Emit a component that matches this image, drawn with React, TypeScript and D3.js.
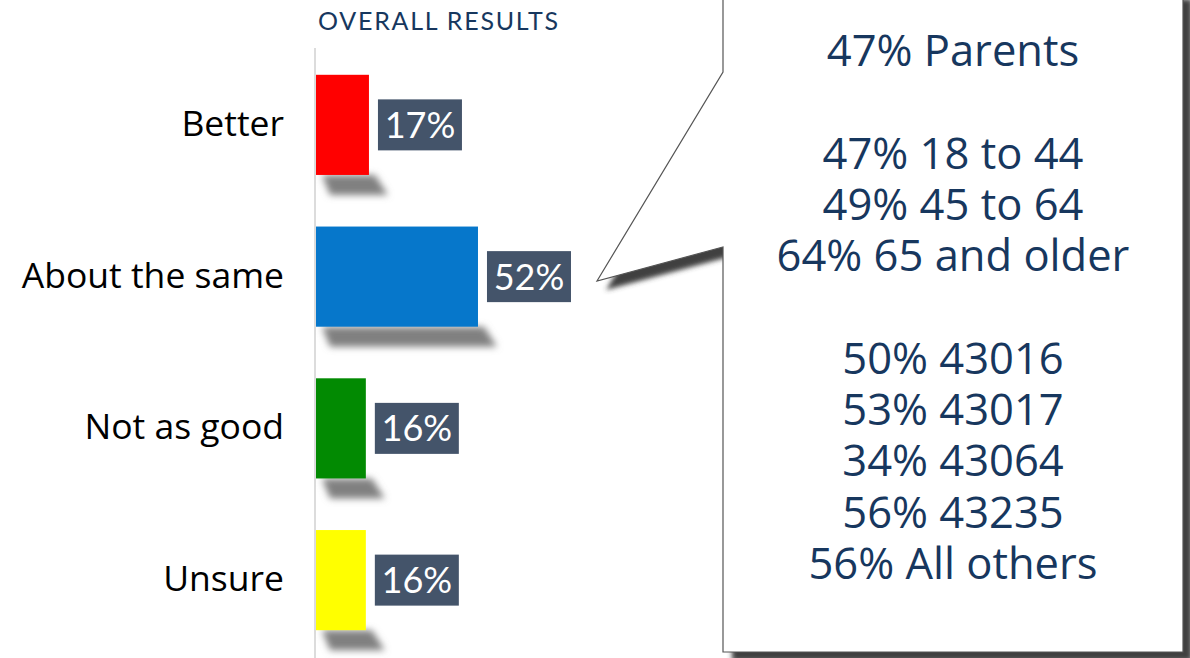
import React from 'react';
import * as d3 from 'd3';

const title = 'OVERALL RESULTS';
const categories = ['Better', 'About the same', 'Not as good', 'Unsure'];
const values = [17, 52, 16, 16];
const barColors = ['#ff0000', '#0677cb', '#028a02', '#ffff00'];
const calloutLines = [
  '47% Parents',
  '',
  '47% 18 to 44',
  '49% 45 to 64',
  '64% 65 and older',
  '',
  '50% 43016',
  '53% 43017',
  '34% 43064',
  '56% 43235',
  '56% All others',
];

export default function App() {
  const W = 1190;
  const H = 658;
  const x0 = 316;
  const x = d3.scaleLinear().domain([0, 100]).range([x0, x0 + 311.5]);
  const y = d3
    .scaleBand<string>()
    .domain(categories)
    .range([49, 656])
    .paddingInner(0.34)
    .paddingOuter(0.17);
  const bw = y.bandwidth();

  // callout geometry
  const bl = 723, br = 1183, bt = -10, bb = 652;
  const tip: [number, number] = [597, 281];
  const p = d3.path();
  p.moveTo(bl, bt);
  p.lineTo(bl, 72);
  p.lineTo(tip[0], tip[1]);
  p.lineTo(bl, 247);
  p.lineTo(bl, bb);
  p.lineTo(br, bb);
  p.lineTo(br, bt);
  p.closePath();
  const calloutPath = p.toString();
  const cx = (bl + br) / 2;
  const lineY = d3.scaleLinear().domain([0, 1]).range([66, 117.3]);

  return (
    <svg
      width={W}
      height={H}
      style={{ position: 'absolute', left: 0, top: 0, background: '#fff' }}
    >
      <defs>
        <filter id="barShadow" x="-30%" y="-80%" width="160%" height="260%">
          <feGaussianBlur stdDeviation="3.8" />
        </filter>
        <filter id="boxShadow" x="-10%" y="-10%" width="120%" height="120%">
          <feGaussianBlur stdDeviation="2.5" />
        </filter>
      </defs>
      <rect x={0} y={0} width={W} height={H} fill="#fff" />

      {/* title */}
      <text
        x={318}
        y={30}
        fontFamily="Lato"
        fontSize={25}
        letterSpacing={1.75}
        fill="#17375e"
      >
        {title}
      </text>

      {/* axis line */}
      <line x1={x0 - 1} x2={x0 - 1} y1={48} y2={H} stroke="#d0d0d0" strokeWidth={1.5} />

      {/* bar shadows */}
      {categories.map((c, i) => {
        const xs = x0;
        const xe = x(values[i]);
        const yb = (y(c) as number) + bw;
        const pts = [
          [xs + 6, yb],
          [xe + 6, yb],
          [xe + 19, yb + 20],
          [xs + 14, yb + 20],
        ];
        return (
          <polygon
            key={'s' + c}
            points={pts.map((q) => q.join(',')).join(' ')}
            fill="#808080"
            filter="url(#barShadow)"
          />
        );
      })}

      {/* bars */}
      {categories.map((c, i) => (
        <rect
          key={'b' + c}
          x={x0}
          y={y(c)}
          width={x(values[i]) - x0}
          height={bw}
          fill={barColors[i]}
        />
      ))}

      {/* category labels */}
      {categories.map((c) => (
        <text
          key={'l' + c}
          x={284}
          y={(y(c) as number) + bw / 2 + 11}
          textAnchor="end"
          fontFamily="'Open Sans'"
          fontSize={35.5}
          fill="#000"
        >
          {c}
        </text>
      ))}

      {/* value labels */}
      {categories.map((c, i) => {
        const bx = x(values[i]) + 9;
        const cy = (y(c) as number) + bw / 2;
        const boxW = 84;
        return (
          <g key={'v' + c}>
            <rect x={bx} y={cy - 25.5} width={boxW} height={51} fill="#44546a" />
            <text
              x={bx + boxW / 2}
              y={cy + 13}
              textAnchor="middle"
              fontFamily="Lato"
              fontSize={36}
              fill="#fff"
            >
              {values[i]}%
            </text>
          </g>
        );
      })}

      {/* callout */}
      <path
        d={calloutPath}
        transform="translate(9,9)"
        fill="#3f3f3f"
        filter="url(#boxShadow)"
      />
      <path d={calloutPath} fill="#fff" stroke="#555" strokeWidth={1.2} />
      {calloutLines.map((t, i) =>
        t ? (
          <text
            key={'c' + i}
            x={cx}
            y={lineY(i)}
            textAnchor="middle"
            fontFamily="'Open Sans'"
            fontSize={43.5}
            fill="#17375e"
          >
            {t}
          </text>
        ) : null
      )}
    </svg>
  );
}
